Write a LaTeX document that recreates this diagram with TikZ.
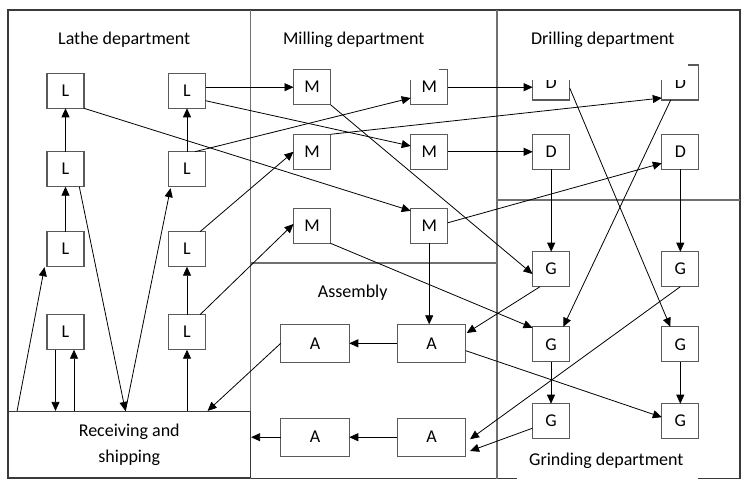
\documentclass[tikz,border=0pt]{standalone}
\usepackage{fontspec}
\setmainfont{Carlito}
\usetikzlibrary{arrows.meta,calc}
\definecolor{framecol}{HTML}{3A3A3A}
\definecolor{divcol}{HTML}{707070}
\definecolor{boxcol}{HTML}{5A5A5A}
\tikzset{
  every node/.style={font=\fontsize{18bp}{26bp}\selectfont},
  sbox/.style={draw=boxcol, line width=1.2bp, minimum width=37bp, minimum height=35bp, inner sep=0pt, outer sep=0pt, fill=white},
  abox/.style={sbox, minimum width=68.5bp, minimum height=38bp},
  conn/.style={draw=black, line width=0.8bp},
  arr/.style={conn, -{Triangle[length=9bp,width=8bp]}},
  lbl/.style={anchor=base, inner sep=0pt},
  divider/.style={draw=divcol, line width=1.5bp},
  patch/.style={fill=white},
}
\begin{document}
\begin{tikzpicture}[x=1bp,y=-1bp]
\useasboundingbox (0,0) rectangle (750,488);
% frame and department dividers
\draw[framecol, line width=1.2bp] (8,10) rectangle (740,478.7);
\draw[divider] (250.5,10) -- (250.5,478.7);
\draw[divider] (497,10) -- (497,478.7);
\draw[divider] (250.5,263) -- (497,263);
\draw[divider] (497,200) -- (740,200);
\fill[patch] (517,474) rectangle (698,484);
% receiving and shipping
\node[draw=framecol, line width=1.2bp, minimum width=242.5bp, minimum height=66bp, inner sep=0pt, align=center] (rs) at (129.25,444.5) {Receiving and\\shipping};
% labels
\node[lbl] (tL) at (124.2,44.3) {Lathe department};
\node[lbl] (tM) at (353.7,44.3) {Milling department};
\node[lbl] (tD) at (602.8,44.3) {Drilling department};
\node[lbl] (tA) at (352.7,297.7) {Assembly};
\node[lbl] (tG) at (606.3,465) {Grinding department};
% lathe
\node[sbox] (L11) at (65.5,90.8) {L};
\node[sbox] (L12) at (65.5,169.2) {L};
\node[sbox] (L13) at (65.5,249.2) {L};
\node[sbox] (L14) at (65.5,332.2) {L};
\node[sbox] (L21) at (187,90.8) {L};
\node[sbox] (L22) at (187,169.2) {L};
\node[sbox] (L23) at (187,249.2) {L};
\node[sbox] (L24) at (187,332.2) {L};
% milling
\node[sbox] (M11) at (312,87.2) {M};
\node[sbox] (M12) at (312,151.8) {M};
\node[sbox] (M13) at (312,225.8) {M};
\node[sbox] (M21) at (429.2,87.2) {M};
\node[sbox] (M22) at (429.2,151.8) {M};
\node[sbox] (M23) at (429.2,225.8) {M};
% drilling
\node[sbox] (D11) at (551.2,82.5) {D};
\node[sbox] (D12) at (551.2,151.7) {D};
\node[sbox] (D21) at (680.3,82.5) {D};
\node[sbox] (D22) at (680.3,151.7) {D};
% grinding
\node[sbox] (G11) at (551,269.2) {G};
\node[sbox] (G12) at (551,344.3) {G};
\node[sbox] (G13) at (551,421.2) {G};
\node[sbox] (G21) at (680.3,269.2) {G};
\node[sbox] (G22) at (680.3,344.3) {G};
\node[sbox] (G23) at (680.3,421.2) {G};
% assembly
\node[abox] (A11) at (315,343.3) {A};
\node[abox] (A21) at (431.5,343.3) {A};
\node[abox] (A12) at (315,437.2) {A};
\node[abox] (A22) at (431.5,437.2) {A};
% partly hidden box tops
\fill[patch] (405,58) rectangle (439.3,79.7);
\fill[patch] (525,58) rectangle (576,79.7);
\fill[patch] (655,58) rectangle (688.3,79.7);
% connectors: lathe
\draw[arr] (L12.north) -- (L11.south);
\draw[arr] (L13.north) -- (L12.south);
\draw[arr] ($(L14.south)+(-10,0)$) -- ($(L14.south |- rs.north)+(-10,0)$);
\draw[arr] ($(L14.south |- rs.north)+(8.5,0)$) -- ($(L14.south)+(8.5,0)$);
\draw[arr] ($(rs.north west)+(9.7,0)$) -- ($(L13.south west)+(-2.5,0.5)$);
\draw[arr] ($(L12.south)+(13.8,0)$) -- ($(rs.north west)+(118,0)$);
\draw[arr] ($(rs.north west)+(118,0)$) -- ($(L22.south west)+(2,1.5)$);
\draw[arr] (L22.north) -- (L21.south);
\draw[arr] (L24.north) -- (L23.south);
\draw[arr] (L24.south |- rs.north) -- (L24.south);
% lathe to milling
\draw[arr] (M11.west -| L21.east) -- (M11.west);
\draw[arr] ($(L21.east)+(0,9.9)$) -- ($(M22.west)+(0,-5.8)$);
\draw[arr] (L11.south east) -- ($(M23.north west)+(0,2.5)$);
\draw[arr] ($(L22.north)+(8,0)$) -- ($(M21.west)+(0,10.8)$);
\draw[arr] ($(L23.north)+(13,0)$) -- (M12.west);
\draw[arr] ($(L24.north)+(13,0)$) -- ($(M13.west)+(0,-1.8)$);
% milling onwards
\draw[arr] (M11.south east) -- ($(G11.west)+(0,4.8)$);
\draw[arr] (M21.east) -- (M21.east -| D11.west);
\draw[arr] (M12.north east) -- ($(D21.south west)+(0,-2)$);
\draw[arr] (M22.east) -- (M22.east -| D12.west);
\draw[arr] ($(M23.east)+(0,-3)$) -- ($(D22.west)+(0,11.5)$);
\draw[arr] (M13.south east) -- ($(G12.north west)+(0,1)$);
\draw[arr] (M23.south) -- (M23.south |- A21.north);
% drilling to grinding
\draw[arr] (D12.south) -- (D12.south |- G11.north);
\draw[arr] (D22.south) -- (G21.north);
\draw[arr] ($(D11.east)+(0,5.5)$) -- ($(G22.north)+(-10,0)$);
\draw[arr] ($(D21.south)+(-9.6,0)$) -- ($(G12.north)+(12.3,0)$);
% grinding and assembly
\draw[arr] ($(G11.south)+(-11,0)$) -- ($(A21.east)+(1,-10.3)$);
\draw[arr] ($(A21.east)+(0,7.4)$) -- ($(G23.west)+(0,-4)$);
\draw[arr] (G21.south) -- ($(A22.east)+(4.3,2)$);
\draw[arr] (G12.south) -- (G13.north);
\draw[arr] (G22.south) -- (G23.north);
\draw[arr] ($(G13.west)+(0,7)$) -- ($(A22.east)+(4.3,13.8)$);
\draw[arr] (A21.west) -- (A11.east);
\draw[arr] (A22.west) -- (A12.east);
\draw[arr] (A11.west) -- ($(rs.north east)+(-43.5,0)$);
\draw[arr] (A12.west) -- (A12.west -| rs.east);
\end{tikzpicture}
\end{document}
